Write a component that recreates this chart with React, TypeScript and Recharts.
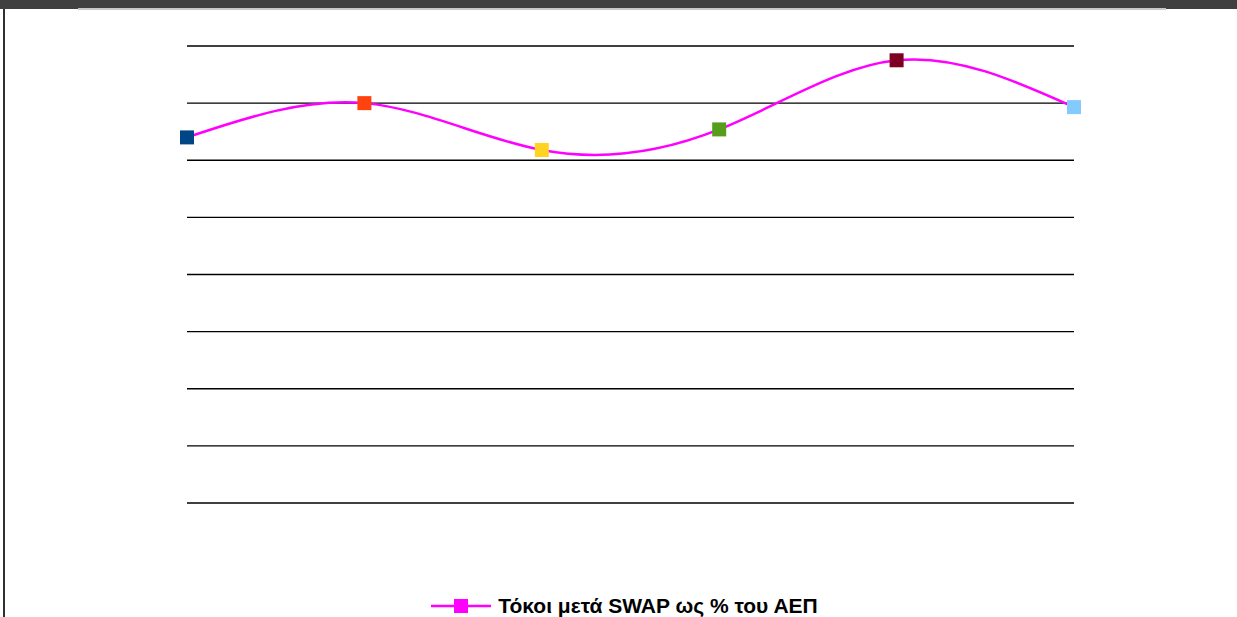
import React from "react";
import { LineChart, CartesianGrid, XAxis, YAxis, Line, Legend } from "recharts";

const years = ["2004", "2005", "2006", "2007", "2008", "2009"];
const interestAfterSwap = [6.4, 7.0, 6.18, 6.54, 7.75, 6.93];
const pointColors = ["#004586", "#ff420e", "#ffd320", "#579d1c", "#7e0021", "#83caff"];
const yTicks = [0, 1, 2, 3, 4, 5, 6, 7, 8];
const seriesName = "Τόκοι μετά SWAP ως % του ΑΕΠ";

const data = years.map((year, i) => ({ year, value: interestAfterSwap[i] }));

const SquareDot = (props: any) => {
  const { cx, cy, index } = props;
  if (cx == null || cy == null) return null;
  return (
    <rect
      key={index}
      x={cx - 7}
      y={cy - 7}
      width={14}
      height={14}
      fill={pointColors[index % pointColors.length]}
    />
  );
};

const LegendContent = () => (
  <div
    style={{
      display: "flex",
      justifyContent: "center",
      alignItems: "center",
      paddingLeft: 12,
      fontFamily: "'Liberation Sans', Arial, sans-serif",
      fontWeight: "bold",
      fontSize: 21,
      lineHeight: "22px",
      color: "#000",
    }}
  >
    <svg width={60} height={16} style={{ marginRight: 7 }}>
      <line x1={0} y1={8} x2={60} y2={8} stroke="#ff00ff" strokeWidth={2.5} />
      <rect x={23} y={1} width={14} height={14} fill="#ff00ff" />
    </svg>
    <span>{seriesName}</span>
  </div>
);

function App() {
  return (
    <div
      style={{
        position: "fixed",
        left: 0,
        top: 0,
        width: 1237,
        height: 617,
        background: "#fff",
        overflow: "hidden",
      }}
    >
      <div style={{ position: "absolute", left: 0, top: 0, width: 1237, height: 9, background: "#404040" }} />
      <div style={{ position: "absolute", left: 78, top: 8, width: 1088, height: 2, background: "#c8c8c8" }} />
      <div style={{ position: "absolute", left: 3, top: 9, width: 2, height: 608, background: "#303030" }} />
      <div style={{ position: "absolute", left: 0, top: 0 }}>
        <LineChart
          width={1237}
          height={617}
          data={data}
          margin={{ top: 46, right: 163, left: 187, bottom: 92 }}
        >
          <CartesianGrid vertical={false} stroke="#000" strokeWidth={1.3} />
          <XAxis dataKey="year" hide />
          <YAxis hide domain={[0, 8]} ticks={yTicks} />
          <Legend
            content={<LegendContent />}
            wrapperStyle={{ position: "absolute", top: 595, left: 0, width: 1237 }}
          />
          <Line
            type="natural"
            dataKey="value"
            name={seriesName}
            stroke="#ff00ff"
            strokeWidth={2.5}
            dot={<SquareDot />}
            activeDot={false}
            isAnimationActive={false}
          />
        </LineChart>
      </div>
    </div>
  );
}

export default App;
